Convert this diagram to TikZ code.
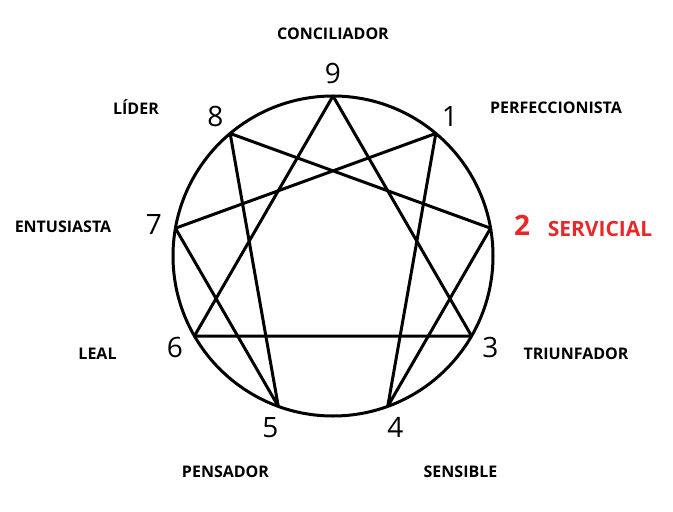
\documentclass[tikz,border=0pt]{standalone}
\usepackage{fontspec}
\setmainfont{Open Sans}
\usetikzlibrary{calc}
\definecolor{srvred}{RGB}{232,40,40}
\begin{document}
\begin{tikzpicture}[x=1pt,y=-1pt,
  edge/.style={line width=3pt,line join=round,line cap=round},
  num/.style={anchor=base,inner sep=0pt,font=\fontsize{28}{28}\selectfont},
  lab/.style={anchor=base,inner sep=0pt,font=\fontsize{16}{16}\selectfont\bfseries}]
\useasboundingbox (0,0) rectangle (673,512);
\coordinate (c) at (333,256);
\foreach \k in {1,...,9}{
  \coordinate (p\k) at ($(c)+({160*cos(90-40*\k)},{-160*sin(90-40*\k)})$);
}
\draw[line width=3pt] (c) circle[radius=160];
\draw[edge] (p9) -- (p3) -- (p6) -- cycle;
\draw[edge] (p1) -- (p4) -- (p2) -- (p8) -- (p5) -- (p7) -- cycle;
% numbers
\node[num] (n9) at (333,83) {9};
\node[num] (n8) at (215.5,126) {8};
\node[num] (n1) at (450,126) {1};
\node[num,text=srvred,font=\fontsize{28}{28}\selectfont\bfseries] (n2) at (522,235) {2};
\node[num] (n3) at (490.5,357) {3};
\node[num] (n4) at (395.5,437) {4};
\node[num] (n5) at (270.5,437) {5};
\node[num] (n6) at (175,357) {6};
\node[num] (n7) at (154,234) {7};
% labels
\node[lab] (l9) at (333,39) {CONCILIADOR};
\node[lab] (l8) at (136,114) {LÍDER};
\node[lab] (l1) at (556,113) {PERFECCIONISTA};
\node[lab,text=srvred,font=\fontsize{21}{21}\selectfont\bfseries] (l2) at (600,236.7) {SERVICIAL};
\node[lab] (l3) at (576,359) {TRIUNFADOR};
\node[lab] (l4) at (460.5,477) {SENSIBLE};
\node[lab] (l5) at (225.5,477) {PENSADOR};
\node[lab] (l6) at (97.5,359) {LEAL};
\node[lab] (l7) at (63,232.7) {ENTUSIASTA};
\end{tikzpicture}
\end{document}
